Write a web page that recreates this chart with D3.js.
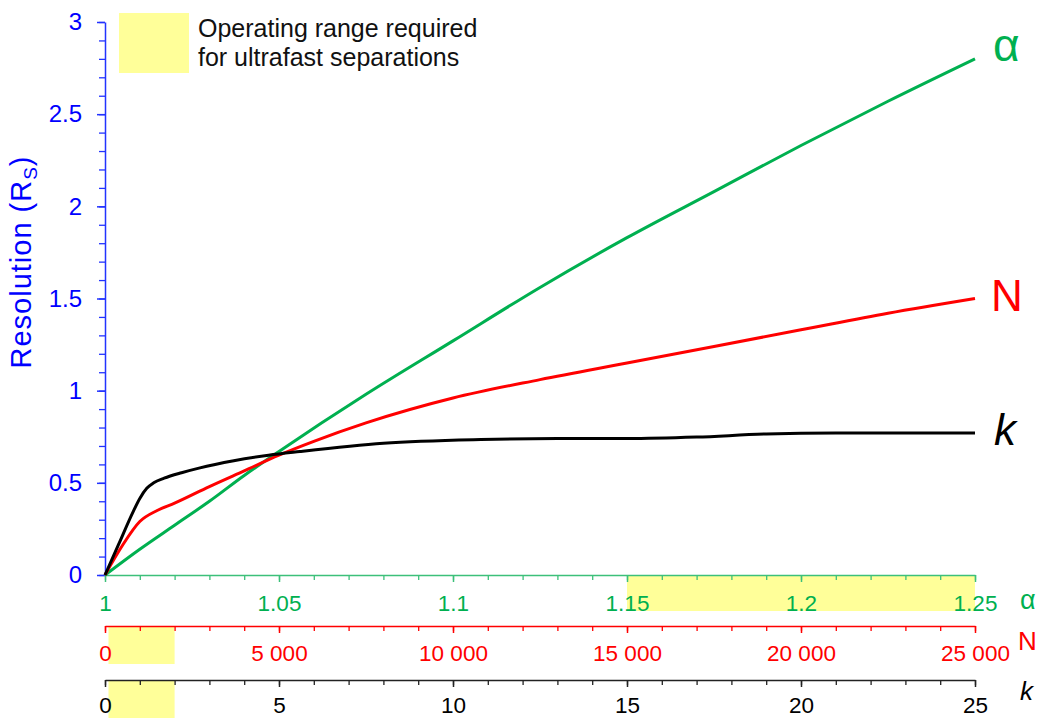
<!DOCTYPE html>
<html>
<head>
<meta charset="utf-8">
<title>Resolution vs alpha, N, k</title>
<script src="https://d3js.org/d3.v7.min.js"></script>
<style>
  body { margin: 0; background: #fff; }
  svg { font-family: "Liberation Sans", Arial, sans-serif; }
</style>
</head>
<body>
<div id="chart"></div>
<script>
// ---- data ----
var alphaVals = [1, 1.01, 1.02, 1.03, 1.04, 1.05, 1.075, 1.1, 1.125, 1.15, 1.175, 1.2, 1.225, 1.25];
var alphaRs   = [0, 0.14, 0.27, 0.40, 0.54, 0.67, 0.98, 1.27, 1.56, 1.83, 2.08, 2.33, 2.57, 2.80];

var nVals = [0, 500, 1000, 1500, 2000, 3000, 4000, 5000, 6000, 7500, 10000, 12500, 15000, 17500, 20000, 22500, 25000];
var nRs   = [0, 0.16, 0.29, 0.35, 0.39, 0.48, 0.565, 0.65, 0.725, 0.825, 0.96, 1.06, 1.15, 1.24, 1.33, 1.42, 1.50];

var kVals = [0, 0.4, 0.8, 1.0, 1.2, 1.4, 1.7, 2.2, 2.7, 3.7, 4.7, 5.6, 8, 10.8, 13, 15, 17, 19, 21, 25];
var kRs   = [0, 0.17, 0.34, 0.415, 0.47, 0.50, 0.525, 0.555, 0.58, 0.62, 0.65, 0.67, 0.715, 0.735, 0.74, 0.74, 0.748, 0.765, 0.77, 0.77];

var yTicks = [0, 0.5, 1, 1.5, 2, 2.5, 3];
var yTickLabels = ["0", "0.5", "1", "1.5", "2", "2.5", "3"];
var alphaTicks = [1, 1.05, 1.1, 1.15, 1.2, 1.25];
var alphaTickLabels = ["1", "1.05", "1.1", "1.15", "1.2", "1.25"];
var nTicks = [0, 5000, 10000, 15000, 20000, 25000];
var nTickLabels = ["0", "5 000", "10 000", "15 000", "20 000", "25 000"];
var kTicks = [0, 5, 10, 15, 20, 25];
var kTickLabels = ["0", "5", "10", "15", "20", "25"];

// operating ranges required for ultrafast separations
var alphaRange = [1.15, 1.25];
var nRange = [100, 2000];
var kRange = [0.1, 2];

// ---- layout ----
var W = 1040, H = 718;
var plotLeft = 105, plotRight = 975, plotTop = 22, plotBottom = 575;
var nAxisY = 626, kAxisY = 680;

var green = "#00B050", red = "#FF0000", blue = "#0000FF", black = "#000000", yellow = "#FFFF99";

var svg = d3.select("#chart").append("svg")
    .attr("width", W).attr("height", H);

var y = d3.scaleLinear().domain([0, 3]).range([plotBottom, plotTop]);
var xA = d3.scaleLinear().domain([1, 1.25]).range([plotLeft, plotRight]);
var xN = d3.scaleLinear().domain([0, 25000]).range([plotLeft, plotRight]);
var xK = d3.scaleLinear().domain([0, 25]).range([plotLeft, plotRight]);

// yellow bands under the bottom axes
svg.append("rect")
    .attr("x", xA(alphaRange[0])).attr("y", plotBottom)
    .attr("width", xA(alphaRange[1]) - xA(alphaRange[0])).attr("height", 36)
    .attr("fill", yellow);
svg.append("rect")
    .attr("x", xN(nRange[0])).attr("y", nAxisY)
    .attr("width", xN(nRange[1]) - xN(nRange[0])).attr("height", 38)
    .attr("fill", yellow);
svg.append("rect")
    .attr("x", xK(kRange[0])).attr("y", kAxisY)
    .attr("width", xK(kRange[1]) - xK(kRange[0])).attr("height", H - kAxisY)
    .attr("fill", yellow);

// legend
svg.append("rect").attr("x", 119).attr("y", 13).attr("width", 70).attr("height", 60).attr("fill", yellow);
svg.append("text").attr("x", 198).attr("y", 37).attr("font-size", 25).attr("fill", "#111")
    .text("Operating range required");
svg.append("text").attr("x", 198).attr("y", 66).attr("font-size", 25).attr("fill", "#111")
    .text("for ultrafast separations");

// helper to draw a major + minor axis
function drawAxis(axisFn, scale, pos, majors, labels, minorStep, color, lineColor, horizontal, pad, fs) {
    var dom = scale.domain();
    var minors = d3.range(0, Math.round((dom[1] - dom[0]) / minorStep) + 1).map(function(i) { return dom[0] + i * minorStep; });
    var shift = horizontal ? "translate(0," + pos + ")" : "translate(" + pos + ",0)";
    var gMin = svg.append("g")
        .attr("transform", shift)
        .call(axisFn(scale).tickValues(minors).tickSize(horizontal ? 5 : 6).tickFormat(""));
    gMin.select(".domain").remove();
    gMin.selectAll("line").attr("stroke", lineColor).attr("stroke-width", 1.3);

    var g = svg.append("g")
        .attr("transform", shift)
        .call(axisFn(scale).tickValues(majors).tickSize(horizontal ? 7 : 8)
            .tickPadding(pad).tickSizeOuter(0)
            .tickFormat(function(d, i) { return labels[i]; }));
    g.select(".domain").attr("stroke", lineColor).attr("stroke-width", 1.5);
    g.selectAll(".tick line").attr("stroke", lineColor).attr("stroke-width", 1.5);
    g.selectAll("text").attr("fill", color).attr("font-size", fs)
        .attr("font-family", "'Liberation Sans', Arial, sans-serif");
    return g;
}

drawAxis(d3.axisLeft, y, plotLeft, yTicks, yTickLabels, 0.1, blue, "#2233ff", false, 15, 24);
drawAxis(d3.axisBottom, xA, plotBottom, alphaTicks, alphaTickLabels, 0.01, green, "#3cc07a", true, 13, 22.5);
drawAxis(d3.axisBottom, xN, nAxisY, nTicks, nTickLabels, 1000, red, red, true, 12, 22.5);
drawAxis(d3.axisBottom, xK, kAxisY, kTicks, kTickLabels, 1, black, "#222", true, 10, 22.5);

// y axis title
var yl = svg.append("text")
    .attr("transform", "translate(31,262) rotate(-90)")
    .attr("text-anchor", "middle").attr("font-size", 29).attr("letter-spacing", 1)
    .attr("fill", blue);
yl.append("tspan").text("Resolution (R");
yl.append("tspan").attr("font-size", 19).attr("dy", 6).text("S");
yl.append("tspan").attr("dy", -6).text(")");

// curves
function drawLine(xs, ys, xScale, color) {
    var pts = xs.map(function(v, i) { return [v, ys[i]]; });
    svg.append("path")
        .datum(pts)
        .attr("fill", "none")
        .attr("stroke", color)
        .attr("stroke-width", 3)
        .attr("stroke-linejoin", "round")
        .attr("d", d3.line()
            .x(function(d) { return xScale(d[0]); })
            .y(function(d) { return y(d[1]); })
            .curve(d3.curveMonotoneX));
}
drawLine(alphaVals, alphaRs, xA, green);
drawLine(nVals, nRs, xN, red);
drawLine(kVals, kRs, xK, black);

// series labels at line ends
svg.append("text").attr("x", 993).attr("y", 61).attr("font-size", 46).attr("fill", green).text("α");
svg.append("text").attr("x", 991).attr("y", 311).attr("font-size", 44).attr("fill", red).text("N");
svg.append("text").attr("x", 994).attr("y", 445).attr("font-size", 44).attr("font-style", "italic").attr("fill", black).text("k");

// axis end labels
svg.append("text").attr("x", 1020).attr("y", 609).attr("font-size", 27).attr("fill", green).text("α");
svg.append("text").attr("x", 1018).attr("y", 650).attr("font-size", 26).attr("fill", red).text("N");
svg.append("text").attr("x", 1020).attr("y", 700).attr("font-size", 26).attr("font-style", "italic").attr("fill", black).text("k");
</script>
</body>
</html>
